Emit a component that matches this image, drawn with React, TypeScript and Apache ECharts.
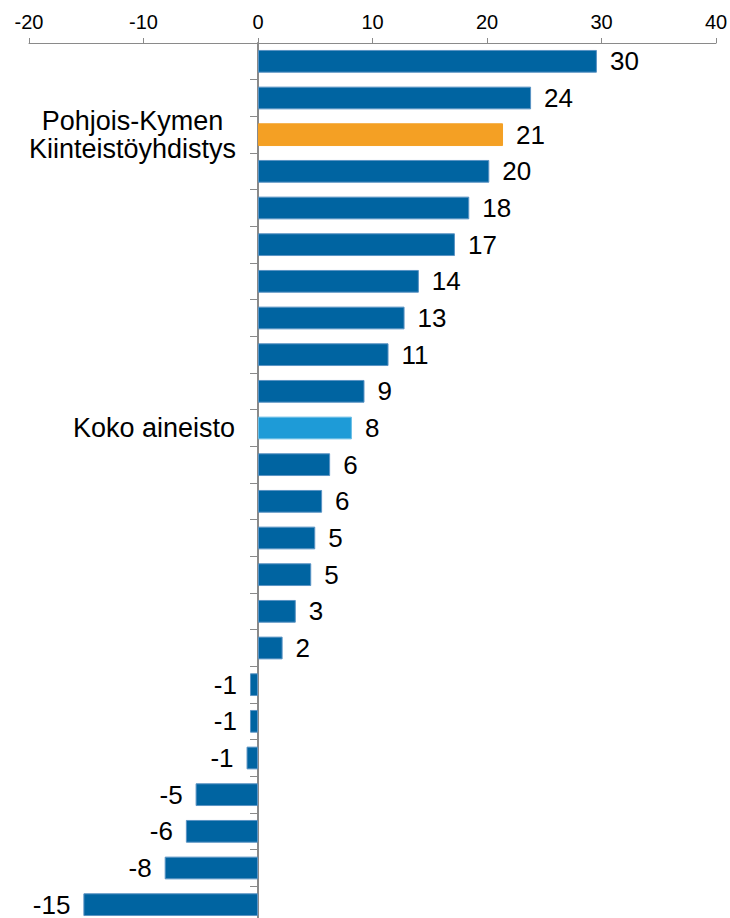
import React, { useEffect, useRef } from "react";
import * as echarts from "echarts";

const categories: string[] = [
  "", "", "Pohjois-Kymen\nKiinteistöyhdistys", "", "", "", "", "", "", "", "Koko aineisto",
  "", "", "", "", "", "", "", "", "", "", "", "", "",
];

const values: number[] = [
  29.6, 23.85, 21.4, 20.2, 18.45, 17.2, 14.05, 12.8, 11.4, 9.3, 8.2, 6.3,
  5.6, 5.0, 4.65, 3.3, 2.15, -0.7, -0.7, -1.0, -5.45, -6.3, -8.15, -15.25,
];

const xTicks = { min: -20, max: 40, interval: 10 };

const ownGroup = "Pohjois-Kymen\nKiinteistöyhdistys";
const allGroup = "Koko aineisto";

const FONT = "'Liberation Sans', Arial, sans-serif";

export default function App() {
  const ref = useRef<HTMLDivElement>(null);

  useEffect(() => {
    if (!ref.current) return;
    const chart = echarts.init(ref.current, null, { renderer: "svg" });

    const data = values.map((v, i) => {
      const name = categories[i];
      let color = "#0064A1";
      let border = "#5a93c4";
      if (name === ownGroup) {
        color = "#F4A024";
        border = "#F4A024";
      } else if (name === allGroup) {
        color = "#1E9BD7";
        border = "#68bde6";
      }
      return {
        value: v,
        itemStyle: { color, borderColor: border, borderWidth: 1 },
        label: { position: v < 0 ? "left" : "right" },
      };
    });

    chart.setOption({
      animation: false,
      backgroundColor: "#ffffff",
      textStyle: { fontFamily: FONT },
      grid: {
        left: 29,
        right: 14,
        top: 43,
        bottom: -5,
        containLabel: false,
        outerBoundsMode: "none",
      },
      xAxis: {
        type: "value",
        position: "top",
        min: xTicks.min,
        max: xTicks.max,
        interval: xTicks.interval,
        splitLine: { show: false },
        axisLine: { show: true, onZero: false, lineStyle: { color: "#8a8a8a", width: 1 } },
        axisTick: { show: true, inside: false, length: 5, lineStyle: { color: "#8a8a8a", width: 1 } },
        axisLabel: { fontSize: 20, color: "#000", margin: 11, fontFamily: FONT },
      },
      yAxis: {
        type: "category",
        inverse: true,
        data: categories,
        axisLine: { show: true, onZero: true, lineStyle: { color: "#8a8a8a", width: 2 } },
        axisTick: { show: true, inside: false, length: 8, alignWithLabel: false, interval: 0, lineStyle: { color: "#8a8a8a", width: 1 } },
        splitLine: { show: false },
        axisLabel: {
          interval: 0,
          margin: -206,
          color: "#000",
          fontSize: 27,
          fontFamily: FONT,
          formatter: (v: string) => {
            if (!v) return "";
            if (v.indexOf("\n") >= 0) {
              return v.split("\n").map((l) => `{c|${l}}`).join("\n");
            }
            return v;
          },
          rich: {
            c: {
              width: 205,
              align: "center",
              fontSize: 27,
              lineHeight: 28,
              fontFamily: FONT,
              color: "#000",
            },
          },
        },
      },
      series: [
        {
          type: "bar",
          data,
          barCategoryGap: "38%",
          label: {
            show: true,
            distance: 13,
            fontSize: 26,
            color: "#000",
            fontFamily: FONT,
            formatter: (p: any) => String(Math.round(p.value)),
          },
        },
      ],
    });

    return () => chart.dispose();
  }, []);

  return (
    <div
      ref={ref}
      style={{ position: "absolute", left: 0, top: 0, width: 730, height: 918 }}
    />
  );
}
